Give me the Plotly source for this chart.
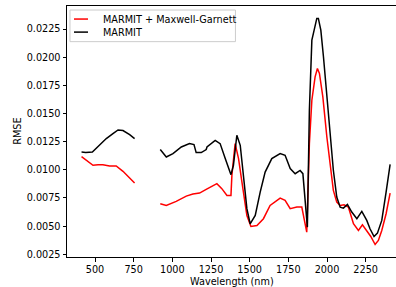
import plotly.graph_objects as go

# MARMIT (black)
wl_black_1 = [413, 440, 483, 530, 573, 616, 649, 681, 724, 756]
rmse_black_1 = [0.01158, 0.01155, 0.01158, 0.01218, 0.01278, 0.01322, 0.01354, 0.01349, 0.01313, 0.01278]

wl_black_2 = [922, 961, 1004, 1058, 1111, 1140, 1154, 1187, 1219, 1224, 1277, 1309, 1342, 1379,
              1395, 1417, 1439, 1460, 1482, 1503, 1536, 1568, 1600, 1643, 1697, 1729, 1762, 1794,
              1826, 1844, 1873, 1886, 1902, 1912, 1934, 1944, 1960, 1977, 1999, 2020, 2041, 2063,
              2085, 2106, 2132, 2160, 2193, 2225, 2257, 2278, 2304, 2326, 2354, 2382, 2408]
rmse_black_2 = [0.01180, 0.01114, 0.01144, 0.01203, 0.01233, 0.01224, 0.01153, 0.01153, 0.01180,
                0.01203, 0.01262, 0.01233, 0.01100, 0.00957, 0.01040, 0.01307, 0.01218, 0.00951,
                0.00655, 0.00521, 0.00595, 0.00802, 0.00980, 0.01100, 0.01144, 0.01129, 0.01011,
                0.00966, 0.00995, 0.00966, 0.00491, 0.01529, 0.02152, 0.02212, 0.02345, 0.02345,
                0.02241, 0.02004, 0.01678, 0.01322, 0.00996, 0.00758, 0.00669, 0.00660, 0.00693,
                0.00625, 0.00566, 0.00631, 0.00551, 0.00477, 0.00408, 0.00438, 0.00551, 0.00802,
                0.01049]

# MARMIT + Maxwell-Garnett (red)
wl_red_1 = [413, 444, 487, 520, 551, 594, 637, 681, 724, 756]
rmse_red_1 = [0.01117, 0.01085, 0.01040, 0.01045, 0.01046, 0.01034, 0.01034, 0.00987, 0.00922, 0.00883]

wl_red_2 = [922, 961, 1025, 1090, 1133, 1176, 1219, 1288, 1320, 1353, 1379, 1385, 1406, 1428,
            1450, 1482, 1508, 1547, 1589, 1632, 1697, 1729, 1762, 1805, 1837, 1869, 1886, 1902,
            1923, 1938, 1951, 1973, 1999, 2020, 2041, 2063, 2085, 2110, 2138, 2171, 2203, 2229,
            2257, 2283, 2311, 2332, 2354, 2382, 2408]
rmse_red_2 = [0.00699, 0.00684, 0.00720, 0.00767, 0.00785, 0.00794, 0.00826, 0.00877, 0.00833,
              0.00773, 0.00773, 0.00951, 0.01233, 0.01100, 0.00891, 0.00595, 0.00497, 0.00506,
              0.00566, 0.00684, 0.00749, 0.00729, 0.00655, 0.00669, 0.00669, 0.00447, 0.01233,
              0.01618, 0.01826, 0.01900, 0.01856, 0.01648, 0.01292, 0.01025, 0.00818, 0.00713,
              0.00684, 0.00690, 0.00669, 0.00521, 0.00462, 0.00512, 0.00462, 0.00408, 0.00337,
              0.00373, 0.00462, 0.00610, 0.00794]

x_ticks = [500, 750, 1000, 1250, 1500, 1750, 2000, 2250]
y_ticks = [0.0025, 0.0050, 0.0075, 0.0100, 0.0125, 0.0150, 0.0175, 0.0200, 0.0225]
series_names = ["MARMIT + Maxwell-Garnett", "MARMIT"]
series_colors = ["#ff0000", "#000000"]

wl_red = wl_red_1 + [None] + wl_red_2
rmse_red = rmse_red_1 + [None] + rmse_red_2
wl_black = wl_black_1 + [None] + wl_black_2
rmse_black = rmse_black_1 + [None] + rmse_black_2

FONT = "DejaVu Sans"
FS = 9.7

fig = go.Figure()
fig.add_trace(go.Scatter(x=wl_red, y=rmse_red, mode="lines", name=series_names[0],
                         line=dict(color=series_colors[0], width=1.5), connectgaps=False))
fig.add_trace(go.Scatter(x=wl_black, y=rmse_black, mode="lines", name=series_names[1],
                         line=dict(color=series_colors[1], width=1.5), connectgaps=False))

# manual matplotlib-style legend (in paper coordinates)
fig.add_shape(type="rect", xref="paper", yref="paper", x0=0.0091, x1=0.512, y0=0.858, y1=0.984,
              line=dict(color="#cccccc", width=1), fillcolor="rgba(255,255,255,0.8)", layer="above")
leg_y = [0.948, 0.896]
for name, color, ly in zip(series_names, series_colors, leg_y):
    fig.add_shape(type="line", xref="paper", yref="paper", x0=0.0213, x1=0.0638, y0=ly, y1=ly,
                  line=dict(color=color, width=1.5), layer="above")
    fig.add_annotation(text=name, xref="paper", yref="paper", x=0.1033, y=ly,
                       xanchor="left", yanchor="middle", showarrow=False,
                       font=dict(family=FONT, size=FS, color="black"))

# axis titles
fig.add_annotation(text="Wavelength (nm)", xref="paper", yref="paper", x=0.5, y=-0.096,
                   xanchor="center", yanchor="middle", showarrow=False,
                   font=dict(family=FONT, size=FS, color="black"))
fig.add_annotation(text="RMSE", xref="paper", yref="paper", x=-0.151, y=0.5, textangle=-90,
                   xanchor="center", yanchor="middle", showarrow=False,
                   font=dict(family=FONT, size=FS, color="black"))

fig.update_layout(
    width=396, height=287,
    margin=dict(l=67, r=0, t=6, b=30, autoexpand=False),
    paper_bgcolor="white", plot_bgcolor="white",
    font=dict(family=FONT, size=FS, color="black"),
    showlegend=False,
    xaxis=dict(range=[319, 2446], tickvals=x_ticks, ticktext=[str(v) for v in x_ticks],
               automargin=False,
               showgrid=False, zeroline=False, showline=True, linecolor="black", linewidth=1,
               mirror=True, ticks="outside", ticklen=3.5, tickwidth=1, tickcolor="black"),
    yaxis=dict(range=[0.00226, 0.02455], tickvals=y_ticks, ticktext=[f"{v:.4f}" for v in y_ticks],
               automargin=False,
               showgrid=False, zeroline=False, showline=True, linecolor="black", linewidth=1,
               mirror=False, ticks="outside", ticklen=3.5, tickwidth=1, tickcolor="black"),
)

fig.write_html("out.html", config={"displayModeBar": False},
               post_script="document.body.style.margin='0';document.body.style.padding='0';")
